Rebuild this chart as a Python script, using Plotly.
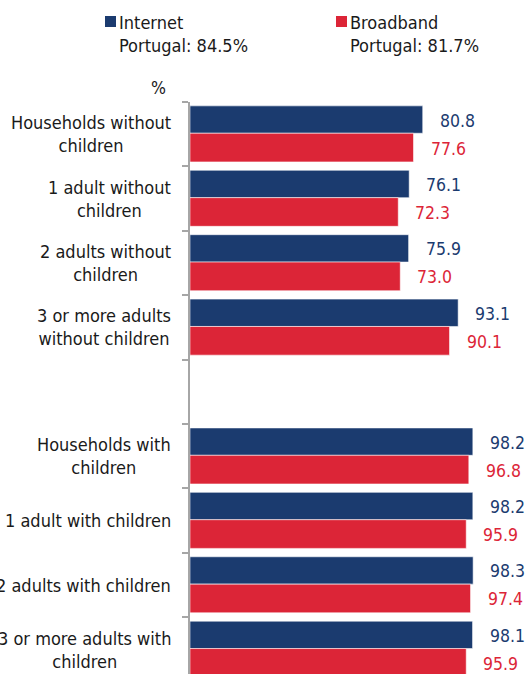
import plotly.graph_objects as go

categories = [
    "Households without<br>children",
    "1 adult without<br>children",
    "2 adults without<br>children",
    "3 or more adults<br>without children",
    "",
    "Households with<br>children",
    "1 adult with children",
    "2 adults with children",
    "3 or more adults with<br>children",
]
internet = [80.8, 76.1, 75.9, 93.1, None, 98.2, 98.2, 98.3, 98.1]
broadband = [77.6, 72.3, 73.0, 90.1, None, 96.8, 95.9, 97.4, 95.9]
series_names = ["Internet<br>Portugal: 84.5%", "Broadband<br>Portugal: 81.7%"]

BLUE = "#1b3b6f"
RED = "#dc2537"
FONT = "DejaVu Sans Condensed, DejaVu Sans"

pos = list(range(len(categories)))

fig = go.Figure()
fig.add_trace(go.Bar(
    y=pos, x=internet, orientation="h", offset=-0.44, width=0.425,
    marker=dict(color=BLUE, line=dict(color="rgba(255,255,255,0.7)", width=0.8)),
    showlegend=False, hoverinfo="skip",
))
fig.add_trace(go.Bar(
    y=pos, x=broadband, orientation="h", offset=-0.015, width=0.445,
    marker=dict(color=RED, line=dict(color="rgba(255,255,255,0.7)", width=0.8)),
    showlegend=False, hoverinfo="skip",
))

annotations = []
for i, (vi, vb) in enumerate(zip(internet, broadband)):
    if vi is not None:
        annotations.append(dict(x=vi, y=i - 0.44 + 0.425 / 2, xref="x", yref="y",
                                text=f"{vi:.1f}", showarrow=False, xanchor="left",
                                xshift=15, yshift=-1,
                                font=dict(family=FONT, size=17.5, color=BLUE)))
    if vb is not None:
        annotations.append(dict(x=vb, y=i - 0.015 + 0.445 / 2, xref="x", yref="y",
                                text=f"{vb:.1f}", showarrow=False, xanchor="left",
                                xshift=15, yshift=-1,
                                font=dict(family=FONT, size=17.5, color=RED)))
for i, c in enumerate(categories):
    if c:
        annotations.append(dict(x=0, y=i, xref="paper", yref="y", text=c,
                                showarrow=False, xanchor="right", align="center",
                                xshift=-17, font=dict(family=FONT, size=18, color="#1a1a1a")))

annotations.append(dict(x=0, y=1, xref="paper", yref="paper", text="%", showarrow=False,
                        xanchor="center", yanchor="middle", xshift=-32, yshift=14,
                        font=dict(family=FONT, size=17.5, color="#1a1a1a")))
legend_x = [-73, 158]
for name, lx in zip(series_names, legend_x):
    annotations.append(dict(x=0, y=1, xref="paper", yref="paper", text=name,
                            showarrow=False, xanchor="left", yanchor="top", align="left",
                            xshift=lx, yshift=92,
                            font=dict(family=FONT, size=18, color="#1a1a1a")))

shapes = []
for col, lx in zip([BLUE, RED], legend_x):
    shapes.append(dict(type="rect", xref="paper", yref="paper", xsizemode="pixel",
                       ysizemode="pixel", xanchor=0, yanchor=1,
                       x0=lx - 12, x1=lx - 1, y0=75, y1=86,
                       fillcolor=col, line=dict(width=0)))

fig.update_layout(
    width=527, height=674,
    margin=dict(l=190, r=0, t=102, b=0),
    paper_bgcolor="white", plot_bgcolor="white",
    barmode="overlay",
    annotations=annotations, shapes=shapes,
    xaxis=dict(range=[0, 117], visible=False, showgrid=False, zeroline=False),
    yaxis=dict(range=[8.38, -0.5], showgrid=False, zeroline=False,
               showline=True, linecolor="#a6a6a6", linewidth=2,
               tickmode="array", tickvals=[i - 0.5 for i in range(len(categories) + 1)],
               ticks="outside", ticklen=6, tickwidth=1.5, tickcolor="#a6a6a6",
               showticklabels=False),
)

fig.write_html("out.html")
